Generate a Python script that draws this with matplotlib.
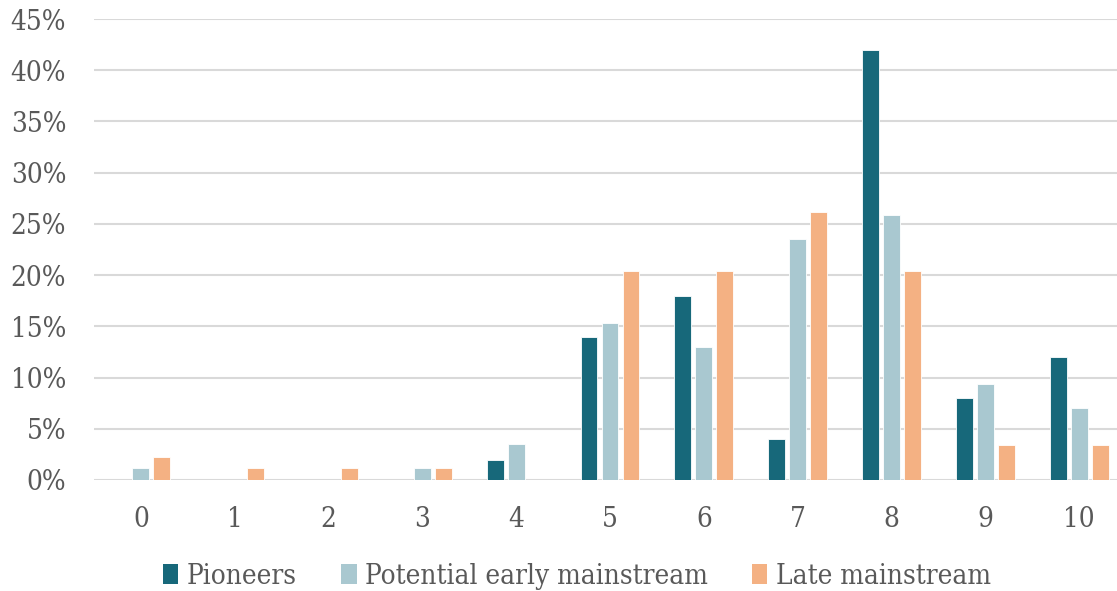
import matplotlib
matplotlib.use("Agg")
import matplotlib.pyplot as plt
from matplotlib.patches import Patch
import numpy as np

categories = ["0", "1", "2", "3", "4", "5", "6", "7", "8", "9", "10"]
series_names = ["Pioneers", "Potential early mainstream", "Late mainstream"]
pioneers = [0, 0, 0, 0, 2.0, 14.0, 18.0, 4.0, 42.0, 8.0, 12.0]
early_mainstream = [1.18, 0, 0, 1.18, 3.53, 15.29, 12.94, 23.53, 25.88, 9.41, 7.06]
late_mainstream = [2.27, 1.14, 1.14, 1.14, 0, 20.45, 20.45, 26.14, 20.45, 3.41, 3.41]
y_ticks = [0, 5, 10, 15, 20, 25, 30, 35, 40, 45]

colors = ["#17687A", "#A9C8D0", "#F4B183"]
text_color = "#595959"
grid_color = "#D9D9D9"

plt.rcParams["font.family"] = ["DejaVu Serif"]
plt.rcParams["font.stretch"] = "condensed"

fig = plt.figure(figsize=(11.17, 5.91), dpi=100)
ax = fig.add_axes([94 / 1117, 111 / 591, 1032 / 1117, 461 / 591])

x = np.arange(len(categories))
width = 0.18
step = 0.224
for i, (vals, col) in enumerate(zip([pioneers, early_mainstream, late_mainstream], colors)):
    ax.bar(x + (i - 1) * step, np.array(vals) / 100, width=width, color=col,
           edgecolor="white", linewidth=0.6, zorder=3)

ax.set_xlim(-0.5, len(categories) - 0.5)
ax.set_ylim(0, 0.45)
ax.set_yticks([t / 100 for t in y_ticks])
ax.set_yticklabels([f"{t}%" for t in y_ticks])
ax.set_xticks(x)
ax.set_xticklabels(categories)

ax.grid(axis="y", color=grid_color, linewidth=1.5, zorder=0)
ax.set_axisbelow(True)
for s in ax.spines.values():
    s.set_visible(False)
ax.tick_params(axis="both", length=0, colors=text_color, labelsize=20)
ax.tick_params(axis="y", pad=20)
ax.tick_params(axis="x", pad=19)

handles = [Patch(facecolor=c, edgecolor="none") for c in colors]
fig.legend(handles, series_names, loc="center", bbox_to_anchor=(577 / 1117, 15 / 591),
           ncol=3, frameon=False, fontsize=20, labelcolor=text_color,
           handlelength=0.55, handleheight=0.75, handletextpad=0.3, columnspacing=1.6)

fig.savefig("out.png", dpi=100)
